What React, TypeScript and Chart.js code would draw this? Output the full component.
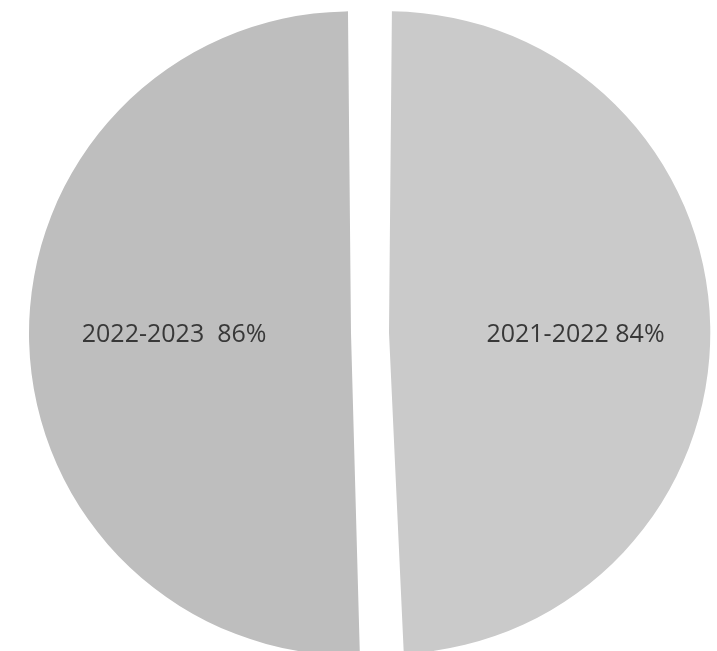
import React, { useEffect, useRef } from "react";
import { Chart, registerables } from "chart.js";

Chart.register(...registerables);

const categories = ["2021-2022", "2022-2023"];
const values = [84, 86];
const separators = [" ", "  "];
const sliceColors = ["#cacaca", "#bebebe"];

const labelPlugin = {
  id: "sliceLabels",
  afterDatasetsDraw(chart: any) {
    const ctx = chart.ctx;
    const meta = chart.getDatasetMeta(0);
    ctx.save();
    ctx.font = "25px 'Open Sans', sans-serif";
    ctx.fillStyle = "#383838";
    ctx.textAlign = "center";
    ctx.textBaseline = "middle";
    meta.data.forEach((arc: any, i: number) => {
      const p = arc.getProps(["x", "y", "startAngle", "endAngle", "outerRadius", "circumference"], true);
      const t = (arc.options.offset || 0) / 4;
      const mid = (p.startAngle + p.endAngle) / 2;
      const fix = 1 - Math.sin(Math.min(Math.PI, p.circumference || 0));
      const realR = p.outerRadius + t * fix;
      const r = t + realR * 0.565;
      const tx = p.x + Math.cos(mid) * r + 5;
      const ty = p.y + 2;
      ctx.fillText(`${categories[i]}${separators[i]}${values[i]}%`, tx, ty);
    });
    ctx.restore();
  },
};

export default function App() {
  const ref = useRef<HTMLCanvasElement>(null);
  useEffect(() => {
    if (!ref.current) return;
    const chart = new Chart(ref.current, {
      type: "pie",
      data: {
        labels: categories,
        datasets: [
          {
            data: values,
            backgroundColor: sliceColors,
            borderWidth: 0,
            offset: 76,
            hoverOffset: 0,
            clip: false as any,
          },
        ],
      },
      options: {
        animation: false,
        responsive: true,
        maintainAspectRatio: false,
        radius: 303,
        rotation: 0,
        layout: { padding: { left: 23, right: 0, top: 15, bottom: 0 } },
        plugins: {
          legend: { display: false },
          tooltip: { enabled: false },
        },
        events: [],
      } as any,
      plugins: [labelPlugin],
    });
    return () => chart.destroy();
  }, []);
  return (
    <div style={{ position: "fixed", left: 0, top: 0, width: 717, height: 651, background: "#fff" }}>
      <canvas ref={ref} />
    </div>
  );
}
